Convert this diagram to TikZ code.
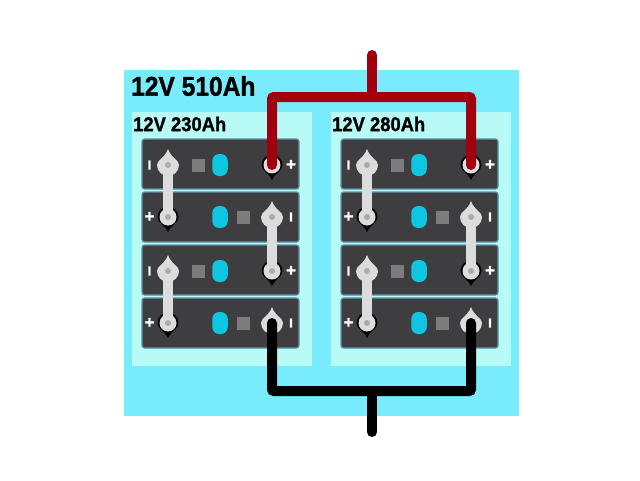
\documentclass[tikz,border=0pt]{standalone}
\usepackage{fontspec}
\setmainfont{Liberation Sans}[BoldFeatures={FakeBold=1.2}]
\definecolor{busblue}{HTML}{78ECFC}
\definecolor{bankblue}{HTML}{B8FBF6}
\definecolor{cellgrey}{HTML}{3E3E40}
\definecolor{celledge}{HTML}{5E93AC}
\definecolor{lugwhite}{HTML}{DCDCDC}
\definecolor{lugdot}{HTML}{ABABAB}
\definecolor{pillblue}{HTML}{0FC6E2}
\definecolor{squaregrey}{HTML}{7C7C7C}
\definecolor{wirered}{HTML}{A00010}
\tikzset{
  bus/.style={fill=busblue,minimum width=395,minimum height=346,inner sep=0},
  bank/.style={fill=bankblue,minimum width=180,minimum height=254,inner sep=0},
  cell/.style={draw=celledge,line width=1.2,fill=cellgrey,rounded corners=2.5,minimum width=157,minimum height=50,inner sep=0},
  pill/.style={fill=pillblue,rounded corners=7,minimum width=15.5,minimum height=22,inner sep=0},
  lamp/.style={fill=squaregrey,minimum width=13,minimum height=13,inner sep=0},
  post/.style={circle,inner sep=0,minimum size=5},
  sign/.style={text=white,font=\fontsize{17}{17}\selectfont\bfseries,inner sep=0},
  bar/.style={text=white,font=\fontsize{13}{13}\selectfont\bfseries,inner sep=0},
  strap/.style={line width=10.5,color=lugwhite},
  redwire/.style={line width=10,color=wirered,rounded corners=2,line cap=round},
  blackwire/.style={line width=10,color=black,rounded corners=2,line cap=round},
  minuslug/.pic={
    \fill[lugwhite] (-11,0) .. controls (-11,-5) and (-3,-7) .. (0,-16) .. controls (3,-7) and (11,-5) .. (11,0) arc (0:180:11);
  },
  pluslug/.pic={
    \fill[black] (-10.5,0) .. controls (-10.5,6) and (-3,8) .. (0,15) .. controls (3,8) and (10.5,6) .. (10.5,0) arc (0:-180:10.5);
    \fill[lugwhite] (0,0) circle (8.5);
  },
}
\begin{document}
\begin{tikzpicture}[x=1pt,y=-1pt]
  \useasboundingbox[fill=white] (0,0) rectangle (640,480);
  \node[bus] (bus) at (321.5,243) {};
  \node[bank] (bankL) at (222,239) {};
  \node[bank] (bankR) at (421,239) {};
  \node[font=\fontsize{27}{27}\selectfont\bfseries,xscale=.91,anchor=west,inner sep=0] (title) at (131,86) {12V 510Ah};
  \node[font=\fontsize{20}{20}\selectfont\bfseries,xscale=.92,anchor=west,inner sep=0] (nameL) at (133,124) {12V 230Ah};
  \node[font=\fontsize{20}{20}\selectfont\bfseries,xscale=.92,anchor=west,inner sep=0] (nameR) at (332,124) {12V 280Ah};
  % cells, rows a to d, left and right bank
  \foreach \bx/\bn in {0/L,199/R} {
    \foreach \by/\br in {164/a,217/b,270/c,323/d} {
      \node[cell] (cell\bn\br) at (220.5+\bx,\by) {};
    }
    % row a and c: minus on the left
    \foreach \by/\br in {164/a,270/c} {
      \node[lamp] (lamp\bn\br) at (198+\bx,\by+1) {};
      \node[pill] (pill\bn\br) at (220+\bx,\by+1) {};
      \node[bar] (signl\bn\br) at (149.5+\bx,\by+1) {I};
      \node[sign] (signr\bn\br) at (291+\bx,\by+1) {+};
      \node[post] (neg\bn\br) at (168+\bx,\by+1) {};
      \node[post] (pos\bn\br) at (272+\bx,\by+1) {};
    }
    % row b and d: plus on the left
    \foreach \by/\br in {217/b,323/d} {
      \node[lamp] (lamp\bn\br) at (243+\bx,\by) {};
      \node[pill] (pill\bn\br) at (220+\bx,\by) {};
      \node[sign] (signl\bn\br) at (149.5+\bx,\by) {+};
      \node[bar] (signr\bn\br) at (291+\bx,\by) {I};
      \node[post] (pos\bn\br) at (168+\bx,\by) {};
      \node[post] (neg\bn\br) at (272+\bx,\by) {};
    }
    \foreach \pn in {a,b,c,d} {
      \pic at (neg\bn\pn) {minuslug};
      \pic at (pos\bn\pn) {pluslug};
    }
    \draw[strap] (neg\bn a.center) -- (pos\bn b.center);
    \draw[strap] (neg\bn b.center) -- (pos\bn c.center);
    \draw[strap] (neg\bn c.center) -- (pos\bn d.center);
    \foreach \pn in {a,b,c,d} {
      \fill[lugdot] (neg\bn\pn) circle (3);
      \fill[lugdot] (pos\bn\pn) circle (3);
    }
  }
  % main leads
  \coordinate (redtop) at (372,55);
  \coordinate (redjoin) at (372,97);
  \coordinate (blacktail) at (372,432);
  \coordinate (blackjoin) at (372,391);
  \draw[redwire] (posLa.center) |- (redjoin) -| (posRa.center);
  \draw[redwire] (redtop) -- (redjoin);
  \draw[blackwire] (negLd.center) |- (blackjoin) -| (negRd.center);
  \draw[blackwire] (blacktail) -- (blackjoin);
\end{tikzpicture}
\end{document}
